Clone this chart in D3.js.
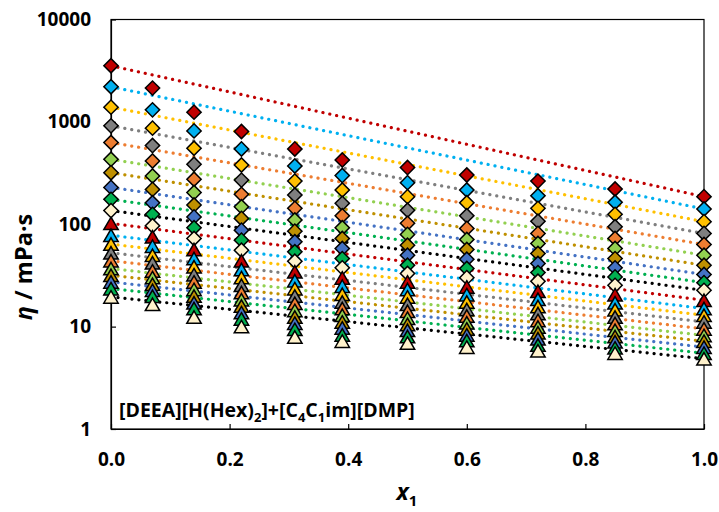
<!DOCTYPE html>
<html>
<head>
<meta charset="utf-8">
<script src="https://cdn.jsdelivr.net/npm/d3@7"></script>
<style>
  body { margin: 0; background: #fff; }
  svg { display: block; }
  text { font-family: "Open Sans", "Liberation Sans", sans-serif; font-weight: 700; fill: #000; }
</style>
</head>
<body>
<svg id="chart" width="719" height="512"></svg>
<script>
// Mole fraction of the first component
const x1Values = [0, 0.07, 0.14, 0.22, 0.31, 0.39, 0.5, 0.6, 0.72, 0.85, 1.0];

// Viscosity (mPa·s), one array per temperature, highest viscosity first
const etaD1  = [3535, 2138, 1245, 805, 544, 424, 358, 303, 264, 221, 186];
const etaD2  = [2203, 1311, 816, 544, 371, 299, 255, 216, 190, 164, 141];
const etaD3  = [1393, 868, 553, 379, 264, 216, 186, 162, 143, 125, 106];
const etaD4  = [914, 587, 385, 270, 193, 160, 137, 121, 107, 94.5, 81.3];
const etaD5  = [629, 415, 275, 196, 143, 121, 102, 91, 81.3, 72.6, 63.4];
const etaD6  = [431, 296, 204, 148, 110, 92.4, 79.5, 71, 64.9, 57.9, 49.8];
const etaD7  = [319, 219, 154, 114, 85.6, 72.6, 62.4, 56.6, 51.8, 46.2, 39.7];
const etaD8  = [229, 162, 118, 87.5, 67.4, 57.9, 49.8, 45.5, 41.3, 37.5, 32.3];
const etaD9  = [175, 125, 92.4, 69.9, 53.8, 46.2, 39.7, 36.9, 33.7, 30.6, 26.9];
const etaD10 = [136, 96.7, 72.6, 55.7, 43.5, 37.5, 33, 30.1, 27.7, 25.3, 22.6];
const etaT1  = [102, 75.4, 56.6, 43.9, 34.3, 29.9, 27.3, 24.4, 22.1, 20.5, 18.1];
const etaT2  = [78, 61, 46.2, 36.1, 28, 24.8, 23, 20.5, 18.5, 17.1, 15.0];
const etaT3  = [64, 49.8, 38.4, 30.1, 23.5, 20.7, 19.5, 17.4, 15.7, 14.6, 12.9];
const etaT4  = [52.6, 42, 32.2, 25.3, 19.9, 17.4, 16.5, 14.7, 13.4, 12.4, 11.1];
const etaT5  = [44, 35, 27.3, 21.5, 16.9, 15.0, 14.1, 12.7, 11.5, 10.7, 9.5];
const etaT6  = [36.9, 30.1, 23.1, 18.3, 14.4, 12.9, 12.1, 10.9, 9.9, 9.2, 8.2];
const etaT7  = [31.7, 25.9, 19.9, 15.9, 12.4, 11.1, 10.5, 9.5, 8.7, 8.0, 7.2];
const etaT8  = [27.3, 22.6, 17.1, 13.7, 10.8, 9.7, 9.2, 8.3, 7.6, 7.1, 6.3];
const etaT9  = [23.5, 19.8, 15.0, 11.9, 9.4, 8.3, 8.0, 7.3, 6.6, 6.2, 5.5];
const etaT10 = [19.5, 16.5, 12.4, 10.0, 7.9, 7.2, 6.9, 6.3, 5.8, 5.5, 4.85];

const diamondSeries  = [etaD1, etaD2, etaD3, etaD4, etaD5, etaD6, etaD7, etaD8, etaD9, etaD10];
const triangleSeries = [etaT1, etaT2, etaT3, etaT4, etaT5, etaT6, etaT7, etaT8, etaT9, etaT10];

const markerColors = ["#C00000", "#00B0F0", "#FFC000", "#7F7F7F", "#ED7D31",
                      "#92D050", "#BF9000", "#4472C4", "#00B050", "#FFF2CC"];
const lineColors   = ["#C00000", "#00B0F0", "#FFC000", "#7F7F7F", "#ED7D31",
                      "#92D050", "#BF9000", "#4472C4", "#00B050", "#000000"];

const yTickValues = [1, 10, 100, 1000, 10000];
const xTickValues = [0, 0.2, 0.4, 0.6, 0.8, 1.0];

// Build series list
const series = [];
diamondSeries.forEach((v, i) => series.push({ values: v, shape: "diamond", fill: markerColors[i], line: lineColors[i] }));
triangleSeries.forEach((v, i) => series.push({ values: v, shape: "triangle", fill: markerColors[i], line: lineColors[i] }));

const svg = d3.select("#chart");
const plot = { left: 111, right: 704, top: 19.5, bottom: 429 };

const x = d3.scaleLinear().domain([0, 1]).range([plot.left, plot.right]);
const y = d3.scaleLog().domain([1, 10000]).range([plot.bottom, plot.top]);

// Plot frame
svg.append("rect")
  .attr("x", plot.left).attr("y", plot.top)
  .attr("width", plot.right - plot.left).attr("height", plot.bottom - plot.top)
  .attr("fill", "none").attr("stroke", "#000").attr("stroke-width", 1.2);

// Axes with inward ticks
const yAxis = d3.axisLeft(y).tickValues(yTickValues).tickFormat(d3.format("d")).tickSizeInner(-5).tickSizeOuter(0).tickPadding(20);
const gy = svg.append("g").attr("transform", `translate(${plot.left},0)`).call(yAxis);
gy.select(".domain").attr("stroke", "#000").attr("stroke-width", 1.2);
gy.selectAll(".tick line").attr("stroke", "#000").attr("stroke-width", 1.2);
gy.selectAll(".tick text").attr("font-size", 19).attr("font-family", "'Open Sans', sans-serif").attr("font-weight", 700);

const xAxis = d3.axisBottom(x).tickValues(xTickValues).tickFormat(d3.format(".1f")).tickSizeInner(-5).tickSizeOuter(0).tickPadding(24);
const gx = svg.append("g").attr("transform", `translate(0,${plot.bottom})`).call(xAxis);
gx.select(".domain").attr("stroke", "#000").attr("stroke-width", 1.2);
gx.selectAll(".tick line").attr("stroke", "#000").attr("stroke-width", 1.2);
gx.selectAll(".tick text").attr("font-size", 19).attr("font-family", "'Open Sans', sans-serif").attr("font-weight", 700);

// Ideal-mixing lines: ln(eta) linear in x1 between the pure-component values
const idealLine = d3.line().x(d => x(d[0])).y(d => y(d[1]));
svg.append("g").selectAll("path")
  .data(series)
  .join("path")
  .attr("d", s => idealLine([[x1Values[0], s.values[0]], [x1Values[x1Values.length - 1], s.values[s.values.length - 1]]]))
  .attr("fill", "none")
  .attr("stroke", s => s.line)
  .attr("stroke-width", 3.2)
  .attr("stroke-linecap", "round")
  .attr("stroke-dasharray", "0.1 6.9");

// Marker shapes
const diamondPath = d3.symbol(d3.symbolSquare, 102)();
const triangleType = {
  draw(ctx, size) {
    const w = Math.sqrt(size * 4 / Math.sqrt(3));
    const h = w * Math.sqrt(3) / 2;
    ctx.moveTo(0, -h / 2);
    ctx.lineTo(w / 2, h / 2);
    ctx.lineTo(-w / 2, h / 2);
    ctx.closePath();
  }
};
const trianglePath = d3.symbol(triangleType, 90)();

const markers = svg.append("g");
series.forEach(s => {
  markers.append("g").selectAll("path")
    .data(s.values.map((v, i) => [x1Values[i], v]))
    .join("path")
    .attr("d", s.shape === "diamond" ? diamondPath : trianglePath)
    .attr("transform", d => `translate(${x(d[0])},${y(d[1])})` + (s.shape === "diamond" ? " rotate(45)" : ""))
    .attr("fill", s.fill)
    .attr("stroke", "#000")
    .attr("stroke-width", 1.5)
    .attr("stroke-linejoin", "miter");
});

// System label
const label = svg.append("text").attr("x", 119).attr("y", 417).attr("font-size", 19.5);
label.append("tspan").text("[DEEA][H(Hex)");
label.append("tspan").attr("font-size", 13).attr("dy", 5).text("2");
label.append("tspan").attr("dy", -5).text("]+[C");
label.append("tspan").attr("font-size", 13).attr("dy", 5).text("4");
label.append("tspan").attr("dy", -5).text("C");
label.append("tspan").attr("font-size", 13).attr("dy", 5).text("1");
label.append("tspan").attr("dy", -5).text("im][DMP]");

// Axis titles
const xt = svg.append("text").attr("x", 407).attr("y", 500).attr("text-anchor", "middle").attr("font-size", 23);
xt.append("tspan").attr("font-style", "italic").text("x");
xt.append("tspan").attr("font-size", 15).attr("dy", 6).text("1");

const yt = svg.append("text")
  .attr("transform", "translate(32,267) rotate(-90)")
  .attr("text-anchor", "middle").attr("font-size", 23.5);
yt.append("tspan").attr("font-style", "italic").text("η");
yt.append("tspan").text(" / mPa·s");
</script>
</body>
</html>
